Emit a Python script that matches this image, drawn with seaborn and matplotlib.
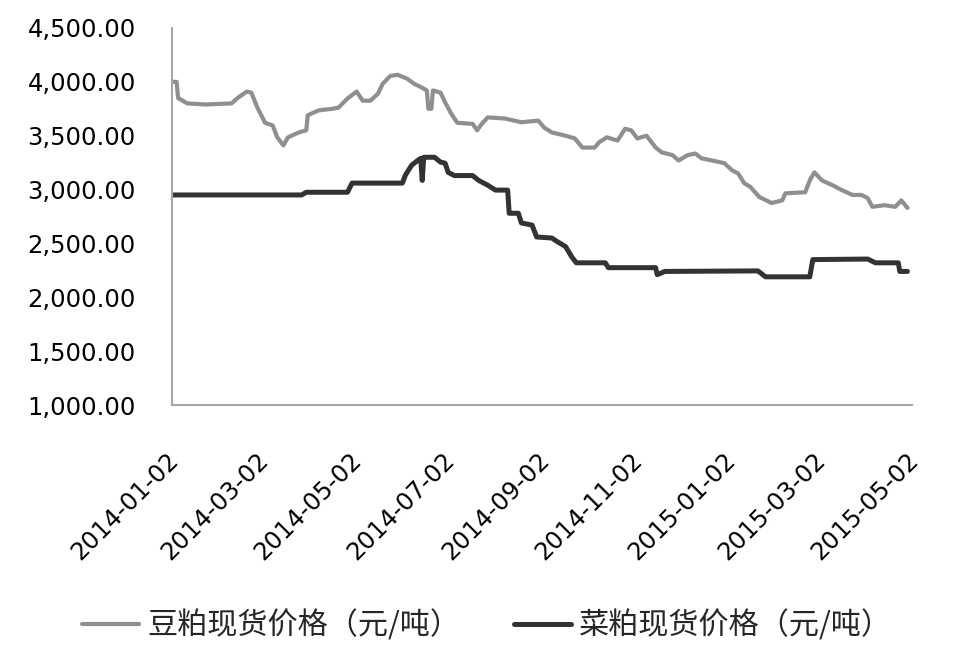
import matplotlib
matplotlib.use("Agg")
import matplotlib.pyplot as plt
import matplotlib.transforms as mtransforms
from matplotlib.ticker import FuncFormatter
import pandas as pd
import seaborn as sns

# ---------------- data ----------------
soy_label = "豆粕现货价格（元/吨）"
rape_label = "菜粕现货价格（元/吨）"

soy_dates = [
    "2014-01-02", "2014-01-05", "2014-01-06", "2014-01-12", "2014-01-24", "2014-02-10",
    "2014-02-14", "2014-02-20", "2014-02-23", "2014-02-27", "2014-03-04", "2014-03-09",
    "2014-03-12", "2014-03-16", "2014-03-19", "2014-03-26", "2014-03-31", "2014-04-01",
    "2014-04-08", "2014-04-17", "2014-04-21", "2014-04-27", "2014-05-03", "2014-05-07",
    "2014-05-12", "2014-05-17", "2014-05-20", "2014-05-25", "2014-05-30", "2014-06-05",
    "2014-06-10", "2014-06-15", "2014-06-18", "2014-06-19", "2014-06-21", "2014-06-22",
    "2014-06-27", "2014-06-30", "2014-07-04", "2014-07-08", "2014-07-18", "2014-07-21",
    "2014-07-24", "2014-07-28", "2014-08-08", "2014-08-19", "2014-08-30", "2014-09-03",
    "2014-09-08", "2014-09-17", "2014-09-23", "2014-09-28", "2014-10-06", "2014-10-09",
    "2014-10-14", "2014-10-21", "2014-10-26", "2014-10-30", "2014-11-03", "2014-11-09",
    "2014-11-15", "2014-11-19", "2014-11-26", "2014-11-30", "2014-12-06", "2014-12-11",
    "2014-12-15", "2014-12-22", "2014-12-30", "2015-01-04", "2015-01-08", "2015-01-12",
    "2015-01-16", "2015-01-22", "2015-01-30", "2015-02-06", "2015-02-08", "2015-02-21",
    "2015-02-24", "2015-02-27", "2015-03-04", "2015-03-11", "2015-03-17", "2015-03-24",
    "2015-03-30", "2015-04-03", "2015-04-06", "2015-04-14", "2015-04-21", "2015-04-25",
    "2015-04-29",
]
soy_prices = [
    4000, 4000, 3850, 3800, 3790, 3800,
    3850, 3910, 3900, 3760, 3620, 3595,
    3485, 3410, 3485, 3530, 3550, 3690,
    3735, 3750, 3760, 3845, 3910, 3825,
    3825, 3890, 3980, 4055, 4065, 4030,
    3980, 3945, 3920, 3750, 3750, 3920,
    3900, 3810, 3705, 3620, 3610, 3550,
    3610, 3670, 3660, 3625, 3640, 3575,
    3530, 3500, 3475, 3390, 3390, 3440,
    3485, 3455, 3565, 3550, 3475, 3500,
    3390, 3345, 3320, 3270, 3320, 3335,
    3290, 3270, 3245, 3180, 3150, 3060,
    3025, 2930, 2875, 2900, 2965, 2975,
    3085, 3160, 3085, 3040, 2995, 2950,
    2950, 2920, 2840, 2855, 2840, 2900,
    2830,
]

rape_dates = [
    "2014-01-02", "2014-03-28", "2014-03-31", "2014-04-27", "2014-04-30", "2014-06-02",
    "2014-06-04", "2014-06-08", "2014-06-12", "2014-06-14", "2014-06-15", "2014-06-16",
    "2014-06-19", "2014-06-23", "2014-06-27", "2014-06-30", "2014-07-02", "2014-07-06",
    "2014-07-18", "2014-07-22", "2014-07-28", "2014-08-02", "2014-08-10", "2014-08-11",
    "2014-08-17", "2014-08-19", "2014-08-26", "2014-08-29", "2014-09-08", "2014-09-10",
    "2014-09-17", "2014-09-21", "2014-09-24", "2014-10-13", "2014-10-15", "2014-11-15",
    "2014-11-16", "2014-11-21", "2015-01-21", "2015-01-26", "2015-02-24", "2015-02-26",
    "2015-04-03", "2015-04-08", "2015-04-23", "2015-04-24", "2015-04-29",
]
rape_prices = [
    2950, 2950, 2975, 2975, 3060, 3060,
    3135, 3225, 3270, 3290, 3085, 3300,
    3300, 3300, 3255, 3245, 3160, 3130,
    3130, 3085, 3040, 2995, 2995, 2780,
    2780, 2690, 2670, 2560, 2550, 2530,
    2470, 2375, 2320, 2320, 2275, 2275,
    2210, 2240, 2245, 2190, 2190, 2350,
    2355, 2320, 2320, 2240, 2240,
]

x_ticks = ["2014-01-02", "2014-03-02", "2014-05-02", "2014-07-02", "2014-09-02",
           "2014-11-02", "2015-01-02", "2015-03-02", "2015-05-02"]
y_ticks = [1000, 1500, 2000, 2500, 3000, 3500, 4000, 4500]

soy_color = "#8f8f8f"
rape_color = "#333333"

# ---------------- plot ----------------
sns.set_style("white")
plt.rcParams["font.family"] = ["DejaVu Sans", "Noto Sans CJK SC"]

soy_df = pd.DataFrame({"date": pd.to_datetime(soy_dates), "price": soy_prices})
rape_df = pd.DataFrame({"date": pd.to_datetime(rape_dates), "price": rape_prices})

fig = plt.figure(figsize=(9.59, 6.66), dpi=100)
ax = fig.add_axes([172 / 959, 1 - 405 / 666, 740 / 959, 377 / 666])

sns.lineplot(data=soy_df, x="date", y="price", ax=ax, color=soy_color,
             linewidth=3.0, label=soy_label, legend=False)
sns.lineplot(data=rape_df, x="date", y="price", ax=ax, color=rape_color,
             linewidth=3.6, label=rape_label, legend=False)

ax.set_xlim(pd.Timestamp(x_ticks[0]), pd.Timestamp(x_ticks[-1]))
ax.set_ylim(y_ticks[0], y_ticks[-1])
ax.set_yticks(y_ticks)
ax.yaxis.set_major_formatter(FuncFormatter(lambda v, p: f"{v:,.2f}"))
ax.set_xticks(pd.to_datetime(x_ticks))
ax.set_xticklabels(x_ticks)
ax.set_xlabel("")
ax.set_ylabel("")

for s in ["top", "right"]:
    ax.spines[s].set_visible(False)
for s in ["left", "bottom"]:
    ax.spines[s].set_color("#a6a6a6")
    ax.spines[s].set_linewidth(1.5)

ax.tick_params(axis="both", length=0)
ax.tick_params(axis="y", labelsize=17.5, pad=26, colors="black")
ax.tick_params(axis="x", labelsize=17.5, pad=37, colors="black")

offset = mtransforms.ScaledTranslation(3 / 100, 0, fig.dpi_scale_trans)
for lab in ax.get_xticklabels():
    lab.set_rotation(45)
    lab.set_ha("right")
    lab.set_va("center")
    lab.set_rotation_mode("anchor")
    lab.set_transform(lab.get_transform() + offset)

handles, labels = ax.get_legend_handles_labels()
fig.legend(handles, labels, loc="center", bbox_to_anchor=(487 / 959, 1 - 626 / 666),
           ncol=2, frameon=False, handlelength=1.9, handletextpad=0.25,
           columnspacing=1.8,
           prop={"family": ["Noto Sans CJK SC", "DejaVu Sans"], "size": 21.7})

fig.savefig("out.png", dpi=100)
